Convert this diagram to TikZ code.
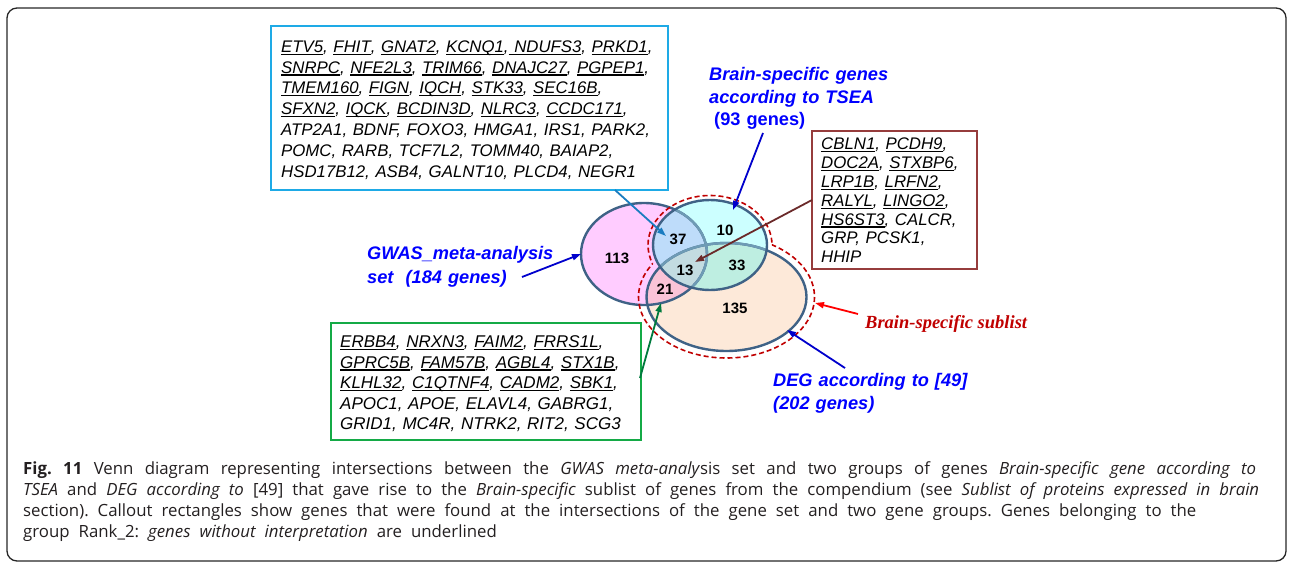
\documentclass[tikz,border=0pt]{standalone}
\usepackage{fontspec}
\setmainfont{Liberation Sans}
\newfontfamily\capfont{Open Sans}
\newfontfamily\serifbf{Liberation Serif}
\usetikzlibrary{arrows.meta}
\newsavebox\gbox
\newcommand\gu[1]{\leavevmode\sbox\gbox{#1}\rlap{\rule[-2.6pt]{\wd\gbox}{1.3pt}}\usebox\gbox}
\newcommand\capsetup{\capfont\fontsize{16.8}{21}\selectfont\spaceskip=9pt plus 6pt minus 2pt\xspaceskip=9pt plus 6pt minus 2pt}
\definecolor{pinkc}{HTML}{FFCCFF}
\definecolor{cyanc}{HTML}{CCFFFF}
\definecolor{peachc}{HTML}{FDE9D9}
\definecolor{pcc}{HTML}{BEDCFA}
\definecolor{cdc}{HTML}{BEEEE1}
\definecolor{pdc}{HTML}{FAC3D7}
\definecolor{allc}{HTML}{C3DCE1}
\definecolor{ellc}{HTML}{3F6286}
\definecolor{ellcl}{HTML}{6E9BB5}
\definecolor{boxblue}{HTML}{1EAAE6}
\definecolor{boxred}{HTML}{963C3C}
\definecolor{boxgreen}{HTML}{14AA46}
\definecolor{arrblue}{HTML}{1A7CC0}
\definecolor{arrdark}{HTML}{6B2A2A}
\definecolor{arrgreen}{HTML}{007A3D}
\definecolor{labblue}{HTML}{0000FF}
\definecolor{arrnavy}{HTML}{0000CC}
\definecolor{subred}{HTML}{C00000}
\definecolor{capc}{HTML}{231F20}
\begin{document}
\begin{tikzpicture}[x=1pt,y=-1pt,
  genebox/.style={draw, line width=2.2pt, fill=none, inner sep=0pt},
  genetext/.style={anchor=base west, inner sep=0pt, text width=420pt, align=left},
  lab/.style={anchor=base west, inner sep=0pt, text width=300pt, align=left, text=labblue},
  num/.style={inner sep=0pt, font=\fontsize{15}{17}\selectfont\bfseries},
  conn/.style={line width=1.8pt, -{Triangle[length=9pt,width=6pt]}},
  dashline/.style={draw=subred, line width=1.6pt, dash pattern=on 5pt off 3pt},
  capline/.style={anchor=base west, inner sep=0pt, text=capc, font=\capsetup}
]
\useasboundingbox (0,0) rectangle (1292,567);
% outer frame
\draw[line width=1.3pt, draw=black!85, rounded corners=10pt] (7,8) rectangle (1286,561);

% ---------- Venn regions ----------
\fill[pinkc] (644,254) ellipse [x radius=63, y radius=51];
\fill[peachc] (726.5,297) ellipse [x radius=80, y radius=54];
\begin{scope}
  \clip (644,254) ellipse [x radius=63, y radius=51];
  \fill[pdc] (726.5,297) ellipse [x radius=80, y radius=54];
\end{scope}
\fill[cyanc] (710,245) ellipse [x radius=57, y radius=45];
\begin{scope}
  \clip (710,245) ellipse [x radius=57, y radius=45];
  \fill[pcc] (644,254) ellipse [x radius=63, y radius=51];
  \fill[cdc] (726.5,297) ellipse [x radius=80, y radius=54];
  \clip (644,254) ellipse [x radius=63, y radius=51];
  \fill[allc] (726.5,297) ellipse [x radius=80, y radius=54];
\end{scope}
% outlines
\draw[ellc, line width=2.4pt] (644,254) ellipse [x radius=63, y radius=51];
\draw[ellc, line width=2.4pt] (726.5,297) ellipse [x radius=80, y radius=54];
\begin{scope}
  \clip (710,245) ellipse [x radius=57, y radius=45];
  \draw[ellcl, line width=2.4pt] (644,254) ellipse [x radius=63, y radius=51];
  \draw[ellcl, line width=2.4pt] (726.5,297) ellipse [x radius=80, y radius=54];
\end{scope}
\draw[ellc, line width=2.4pt] (710,245) ellipse [x radius=57, y radius=45];

% dashed outline of the brain-specific sublist
\begin{scope}[even odd rule]
  \clip (0,0) -- (0,567) -- (1292,567) -- (1292,0) -- cycle
     (726.5,297) ellipse [x radius=88, y radius=61];
  \draw[dashline] (710,245) ellipse [x radius=62, y radius=49.5];
\end{scope}
\begin{scope}[even odd rule]
  \clip (0,0) -- (0,567) -- (1292,567) -- (1292,0) -- cycle
     (710,245) ellipse [x radius=62, y radius=49.5];
  \draw[dashline] (726.5,297) ellipse [x radius=88, y radius=61];
\end{scope}

% numbers
\node[num] (n113) at (617,258) {113};
\node[num] (n37) at (678,239) {37};
\node[num] (n10) at (725,230) {10};
\node[num] (n13) at (685,270) {13};
\node[num] (n33) at (737,265) {33};
\node[num] (n21) at (665,289) {21};
\node[num] (n135) at (735,308) {135};

% ---------- callout boxes ----------
\node[genebox, draw=boxblue, minimum width=397pt, minimum height=164pt] (bluebox) at (469.5,108) {};
\node[genetext, font=\fontsize{16.8}{20.8}\selectfont\itshape] (bluetext) at (281,52.3) {%
\gu{ETV5}, \gu{FHIT}, \gu{GNAT2}, \gu{KCNQ1},\gu{ NDUFS3}, \gu{PRKD1},\\
\gu{SNRPC}, \gu{NFE2L3}, \gu{TRIM66}, \gu{DNAJC27}, \gu{PGPEP1},\\
\gu{TMEM160}, \gu{FIGN}, \gu{IQCH}, \gu{STK33}, \gu{SEC16B},\\
\gu{SFXN2}, \gu{IQCK}, \gu{BCDIN3D}, \gu{NLRC3}, \gu{CCDC171},\\
ATP2A1, BDNF, FOXO3, HMGA1, IRS1, PARK2,\\
POMC, RARB, TCF7L2, TOMM40, BAIAP2,\\
HSD17B12, ASB4, GALNT10, PLCD4, NEGR1};

\node[genebox, draw=boxred, minimum width=165pt, minimum height=138pt] (redbox) at (894.5,200) {};
\node[genetext, font=\fontsize{16.8}{18.8}\selectfont\itshape] (redtext) at (821,149.8) {%
\gu{CBLN1}, \gu{PCDH9},\\
\gu{DOC2A}, \gu{STXBP6},\\
\gu{LRP1B}, \gu{LRFN2},\\
\gu{RALYL}, \gu{LINGO2},\\
\gu{HS6ST3}, CALCR,\\
GRP, PCSK1,\\
HHIP};

\node[genebox, draw=boxgreen, minimum width=310pt, minimum height=117pt] (greenbox) at (486,381.5) {};
\node[genetext, font=\fontsize{17}{20.5}\selectfont\itshape] (greentext) at (340,347.5) {%
\gu{ERBB4}, \gu{NRXN3}, \gu{FAIM2}, \gu{FRRS1L},\\
\gu{GPRC5B}, \gu{FAM57B}, \gu{AGBL4}, \gu{STX1B},\\
\gu{KLHL32}, \gu{C1QTNF4}, \gu{CADM2}, \gu{SBK1},\\
APOC1, APOE, ELAVL4, GABRG1,\\
GRID1, MC4R, NTRK2, RIT2, SCG3};

% ---------- labels ----------
\node[lab, font=\fontsize{18.2}{22.5}\selectfont\bfseries\itshape] (tsea) at (709,81) {%
Brain-specific genes\\
according to TSEA\\
\hspace*{5pt}\upshape(93 genes)};
\node[lab, font=\fontsize{18.2}{24}\selectfont\bfseries] (gwas) at (367,259) {%
\itshape GWAS\_meta-analysis\\
set\ \ (184 genes)};
\node[lab, font=\fontsize{18.2}{23}\selectfont\bfseries] (deg) at (773,386) {%
\itshape DEG according to [49]\\
(202 genes)};
\node[anchor=base west, inner sep=0pt, text=subred, font=\serifbf\fontsize{18.5}{20}\selectfont\bfseries\itshape] (sublist) at (865,328) {Brain-specific sublist};

% ---------- connector end points ----------
\coordinate (bstart) at (615,190);
\coordinate (bend) at (666,236);
\coordinate (tstart) at (763,133);
\coordinate (tend) at (733,210);
\coordinate (rstart) at (812,200);
\coordinate (rend) at (695,262);
\coordinate (gstart) at (522,277);
\coordinate (gend) at (581,254);
\coordinate (grstart) at (640,378);
\coordinate (grend) at (661,303);
\coordinate (sstart) at (858,314);
\coordinate (send) at (815,303);
\coordinate (dstart) at (845,368);
\coordinate (dend) at (787,330);

\draw[conn, arrblue] (bstart) -- (bend);
\draw[conn, arrnavy] (tstart) -- (tend);
\draw[conn, arrdark] (rstart) -- (rend);
\draw[conn, arrnavy] (gstart) -- (gend);
\draw[conn, arrgreen] (grstart) -- (grend);
\draw[conn, red] (sstart) -- (send);
\draw[conn, arrnavy] (dstart) -- (dend);

% ---------- caption ----------
\node[capline] (cap1) at (23,474.3) {\hbox to 1233pt{\textbf{Fig. 11} Venn diagram representing intersections between the \emph{GWAS meta-analy}sis set and two groups of genes \emph{Brain-specific gene according to}}};
\node[capline] (cap2) at (23,495.5) {\hbox to 1236pt{\emph{TSEA} and \emph{DEG according to} [49] that gave rise to the \emph{Brain-specific} sublist of genes from the compendium (see \emph{Sublist of proteins expressed in brain}}};
\node[capline] (cap3) at (23,516.5) {section). Callout rectangles show genes that were found at the intersections of the gene set and two gene groups. Genes belonging to the};
\node[capline] (cap4) at (23,537.5) {group Rank\_2: \emph{genes without interpretation} are underlined};
\end{tikzpicture}
\end{document}
